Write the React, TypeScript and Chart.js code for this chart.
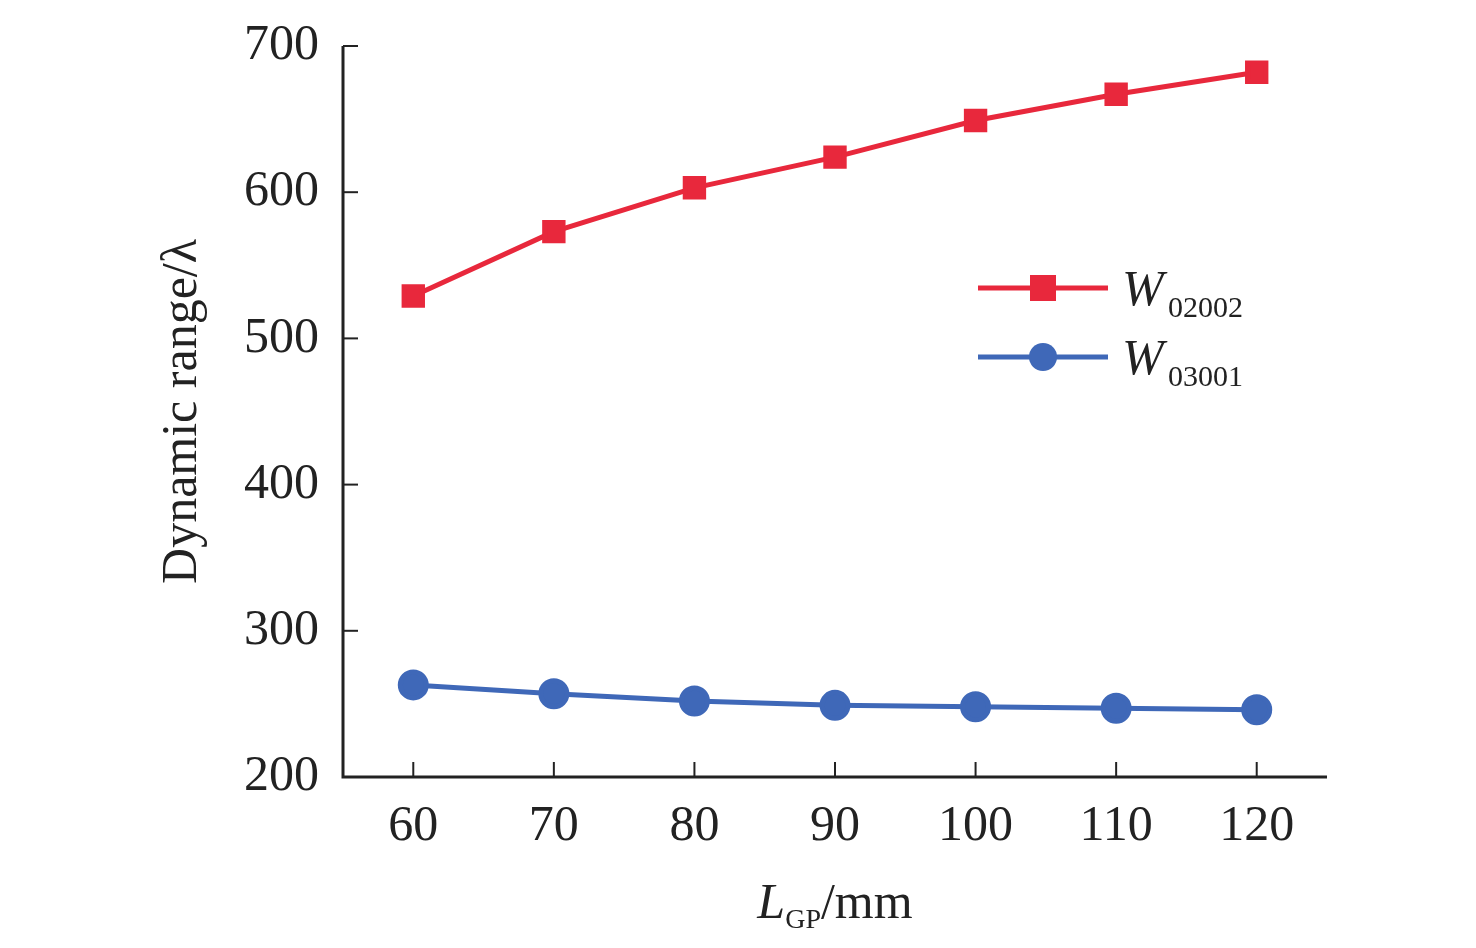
import React, { useEffect, useRef } from "react";
import { Chart, registerables } from "chart.js";
Chart.register(...registerables);

const xValues = [60, 70, 80, 90, 100, 110, 120];
const w02002 = [529, 573, 603, 624, 649, 667, 682];
const w03001 = [263, 257, 252, 249, 248, 247, 246];
const FONT = "'Liberation Serif', 'Times New Roman', serif";

const decor = {
  id: "decor",
  afterDraw(chart: any) {
    const ctx = chart.ctx;
    const { left, right, top, bottom } = chart.chartArea;
    const xs = chart.scales.x, ys = chart.scales.y;
    ctx.save();
    ctx.strokeStyle = "#222";
    ctx.lineWidth = 3;
    ctx.beginPath();
    ctx.moveTo(left, top); ctx.lineTo(left, bottom); ctx.lineTo(right, bottom);
    ctx.stroke();
    ctx.lineWidth = 2;
    for (const v of xValues) {
      const px = xs.getPixelForValue(v);
      ctx.beginPath(); ctx.moveTo(px, bottom); ctx.lineTo(px, bottom - 15); ctx.stroke();
    }
    for (let v = 200; v <= 700; v += 100) {
      const py = ys.getPixelForValue(v);
      ctx.beginPath(); ctx.moveTo(left, py); ctx.lineTo(left + 15, py); ctx.stroke();
    }
    ctx.fillStyle = "#222";
    ctx.textBaseline = "alphabetic";
    ctx.font = `italic 50px ${FONT}`;
    const lw = ctx.measureText("L").width;
    ctx.font = `28px ${FONT}`;
    const gw = ctx.measureText("GP").width;
    ctx.font = `50px ${FONT}`;
    const mw = ctx.measureText("/mm").width;
    const total = lw + gw + mw;
    const x0 = (left + right) / 2 - total / 2 + 0;
    ctx.font = `italic 50px ${FONT}`; ctx.fillText("L", x0, 918);
    ctx.font = `28px ${FONT}`; ctx.fillText("GP", x0 + lw, 928);
    ctx.font = `50px ${FONT}`; ctx.fillText("/mm", x0 + lw + gw, 918);
    ctx.save();
    ctx.translate(196, (top + bottom) / 2);
    ctx.rotate(-Math.PI / 2);
    ctx.textAlign = "center";
    ctx.font = `50px ${FONT}`;
    ctx.fillText("Dynamic range/λ", 0, 0);
    ctx.restore();
    const items = [
      { y: 288, color: "#e8283c", sub: "02002", shape: "rect" },
      { y: 357, color: "#3f68b8", sub: "03001", shape: "circle" },
    ];
    for (const it of items) {
      ctx.strokeStyle = it.color; ctx.lineWidth = 5;
      ctx.beginPath(); ctx.moveTo(978, it.y); ctx.lineTo(1108, it.y); ctx.stroke();
      ctx.fillStyle = it.color;
      if (it.shape === "rect") ctx.fillRect(1030, it.y - 13, 26, 26);
      else { ctx.beginPath(); ctx.arc(1043, it.y, 14, 0, Math.PI * 2); ctx.fill(); }
      ctx.fillStyle = "#222";
      ctx.font = `italic 50px ${FONT}`; ctx.fillText("W", 1122, it.y + 17);
      ctx.font = `30px ${FONT}`; ctx.fillText(it.sub, 1168, it.y + 29);
    }
    ctx.restore();
  },
};

export default function App() {
  const ref = useRef<HTMLCanvasElement>(null);
  useEffect(() => {
    const chart = new Chart(ref.current!, {
      type: "line",
      data: {
        datasets: [
          {
            data: xValues.map((x, i) => ({ x, y: w02002[i] })),
            borderColor: "#e8283c", backgroundColor: "#e8283c", borderWidth: 5,
            pointStyle: "rect", pointRadius: 13, pointHoverRadius: 13,
          },
          {
            data: xValues.map((x, i) => ({ x, y: w03001[i] })),
            borderColor: "#3f68b8", backgroundColor: "#3f68b8", borderWidth: 5,
            pointStyle: "circle", pointRadius: 13, pointHoverRadius: 13,
          },
        ],
      },
      options: {
        animation: false, responsive: false,
        layout: { padding: { top: 15, right: 149, left: 0, bottom: 0 } },
        plugins: { legend: { display: false }, tooltip: { enabled: false } },
        scales: {
          x: {
            type: "linear", min: 55, max: 125,
            afterFit: (s: any) => { s.height = 171; },
            afterBuildTicks: (s: any) => { s.ticks = xValues.map((v) => ({ value: v })); },
            grid: { display: false }, border: { display: false },
            ticks: { color: "#222", font: { family: FONT, size: 50 }, padding: 12 },
          },
          y: {
            min: 200, max: 700,
            afterFit: (s: any) => { s.width = 343; },
            grid: { display: false }, border: { display: false },
            ticks: { stepSize: 100, color: "#222", font: { family: FONT, size: 50 }, padding: 16 },
          },
        },
      },
      plugins: [decor],
    });
    return () => chart.destroy();
  }, []);
  return (
    <div style={{ position: "fixed", left: 0, top: 0, background: "#fff" }}>
      <canvas ref={ref} width={1476} height={948} style={{ width: 1476, height: 948 }} />
    </div>
  );
}
